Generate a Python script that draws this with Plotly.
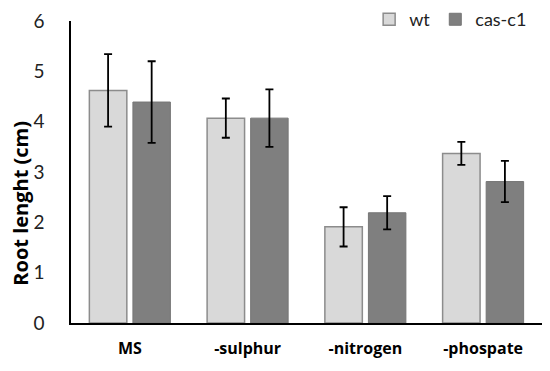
import plotly.graph_objects as go

categories = ["MS", "-sulphur", "-nitrogen", "-phospate"]
wt_values = [4.62, 4.07, 1.91, 3.37]
wt_errors = [0.72, 0.39, 0.39, 0.23]
cas_values = [4.39, 4.07, 2.19, 2.81]
cas_errors = [0.81, 0.57, 0.33, 0.41]
y_ticks = [0, 1, 2, 3, 4, 5, 6]
y_title = "Root lenght (cm)"

font_family = "Lato, Open Sans, sans-serif"
bold_family = "Open Sans, Lato, sans-serif"

fig = go.Figure()
fig.add_trace(go.Bar(
    name="wt", x=categories, y=wt_values,
    marker=dict(color="#d9d9d9", line=dict(color="#8c8c8c", width=1.5)),
    error_y=dict(type="data", array=wt_errors, color="black", thickness=1.8, width=4),
))
fig.add_trace(go.Bar(
    name="cas-c1", x=categories, y=cas_values,
    marker=dict(color="#7f7f7f", line=dict(color="#767676", width=1)),
    error_y=dict(type="data", array=cas_errors, color="black", thickness=1.8, width=4),
))

# page body has an 8px margin, so the figure is sized to fill the rest of the window
fig.update_layout(
    width=542, height=363,
    margin=dict(l=63, r=8, t=13, b=48, autoexpand=False),
    paper_bgcolor="white", plot_bgcolor="white",
    barmode="group", bargap=0.26, bargroupgap=0.14,
    font=dict(family=font_family, color="black"),
    legend=dict(orientation="h", x=0.633, xanchor="left", y=1.066, yanchor="top",
                font=dict(size=18, color="#222"), bgcolor="rgba(0,0,0,0)",
                itemwidth=30, tracegroupgap=0),
    showlegend=True,
)
fig.add_annotation(
    text="<b>%s</b>" % y_title, textangle=-90, showarrow=False,
    xref="paper", yref="paper", x=-0.107, y=0.397, xanchor="center", yanchor="middle",
    borderpad=0, font=dict(family=bold_family, size=20, color="black"),
)
fig.update_yaxes(
    range=[0, 6], tickvals=y_ticks, showgrid=False, zeroline=False,
    showline=True, linecolor="black", linewidth=1.5,
    tickfont=dict(size=19, color="#222"), ticklabelstandoff=21,
)
fig.update_xaxes(
    showgrid=False, showline=True, linecolor="black", linewidth=1.5,
    tickfont=dict(family=bold_family, size=16, color="black"), ticklabelstandoff=10,
    tickvals=categories, ticktext=["<b>%s</b>" % c for c in categories],
)

fig.write_html("out.html")
